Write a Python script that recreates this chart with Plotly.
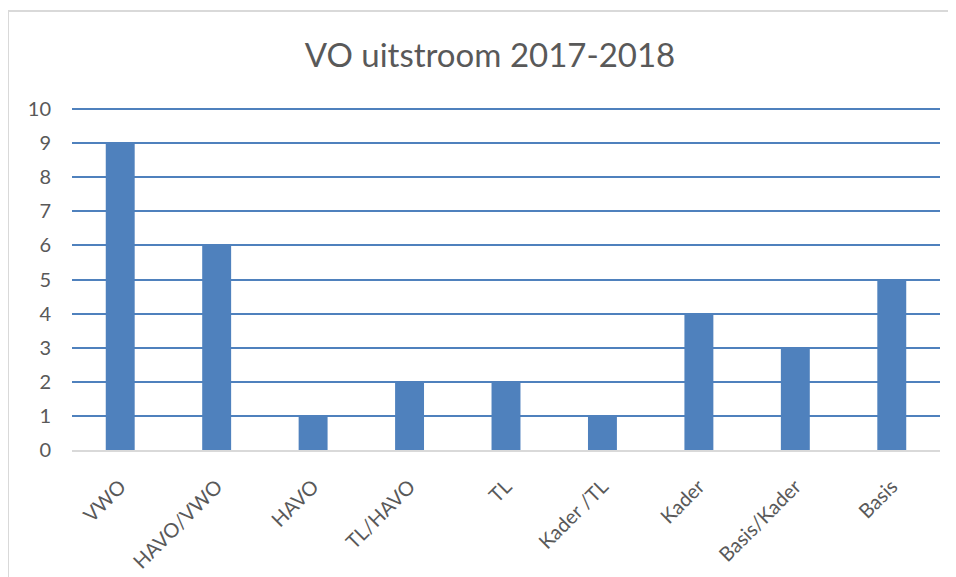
import plotly.graph_objects as go

categories = ["VWO", "HAVO/VWO", "HAVO", "TL/HAVO", "TL", "Kader /TL", "Kader", "Basis/Kader", "Basis"]
values = [9, 6, 1, 2, 2, 1, 4, 3, 5]
y_ticks = list(range(0, 11))

# page has an 8px body margin: work in reference pixel coords minus 8
OFF = 8
W, H = 956 - OFF, 577 - OFF
L, R, T = 72 - OFF, 956 - 940, 108 - OFF
B = H - (450 - OFF)
pw, ph = W - L - R, H - T - B

def px_x(p):
    return (p - OFF - L) / pw

def px_y(p):
    return (H - B - (p - OFF)) / ph

fig = go.Figure(go.Bar(x=categories, y=values, marker=dict(color="#4F81BD", line=dict(width=0))))

fig.update_layout(
    width=W, height=H,
    margin=dict(l=L, r=R, t=T, b=B, autoexpand=False),
    paper_bgcolor="white", plot_bgcolor="white",
    bargap=0.7,
    showlegend=False,
    font=dict(family="Lato, Open Sans, sans-serif", color="#595959"),
    title=dict(text="VO uitstroom 2017-2018", x=px_x(490), xanchor="center", xref="paper",
               y=1 - (55 - OFF) / H, yanchor="middle",
               font=dict(size=33, color="#595959", family="Lato, Open Sans, sans-serif")),
    xaxis=dict(tickangle=-45, tickfont=dict(size=20, color="#595959"), showgrid=False, automargin=False,
               showline=True, linecolor="#D9D9D9", linewidth=2, ticks="outside", ticklen=15,
               tickcolor="rgba(0,0,0,0)", zeroline=False),
    yaxis=dict(range=[0, 10.03], tickvals=y_ticks, tickfont=dict(size=20, color="#595959"), automargin=False,
               showgrid=True, gridcolor="#4F81BD", gridwidth=2, zeroline=False, showline=False,
               ticks="outside", ticklen=16, tickcolor="rgba(0,0,0,0)"),
    shapes=[
        dict(type="line", xref="paper", yref="paper", x0=px_x(8), x1=px_x(960), y0=px_y(11), y1=px_y(11),
             line=dict(color="#D9D9D9", width=2)),
        dict(type="line", xref="paper", yref="paper", x0=px_x(8), x1=px_x(8), y0=px_y(11), y1=px_y(580),
             line=dict(color="#D9D9D9", width=2)),
    ],
)

fig.write_html("out.html")
